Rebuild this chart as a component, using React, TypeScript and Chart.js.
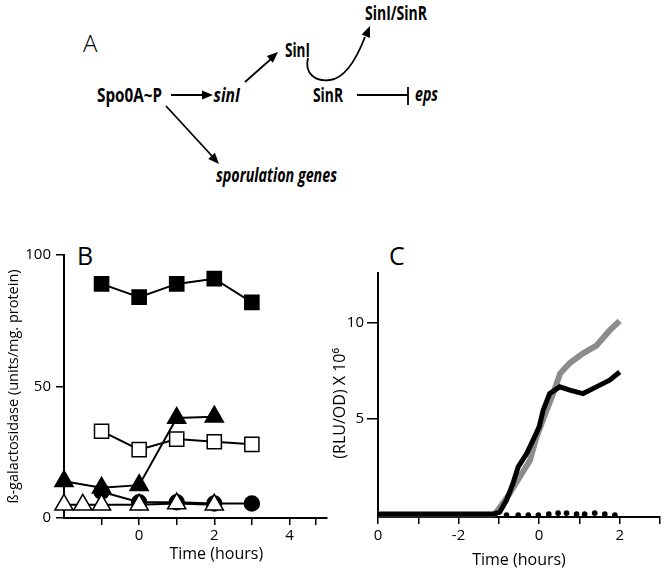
import { useEffect, useRef } from "react";
import { Chart, registerables } from "chart.js";

Chart.register(...registerables);

const FONT = "'Open Sans', 'DejaVu Sans', sans-serif";

// ---------- Panel B data ----------
const bFilledSquareX = [-1, 0, 1, 2, 3];
const bFilledSquareY = [89, 84, 89, 91, 82];
const bOpenSquareX = [-1, 0, 1, 2, 3];
const bOpenSquareY = [33, 26, 30, 29, 28];
const bFilledTriangleX = [-2, -1, 0, 1, 2];
const bFilledTriangleY = [14, 11.5, 12.5, 38, 38.5];
const bFilledCircleX = [-1, 0, 1, 2, 3];
const bFilledCircleY = [10, 6, 6, 5.5, 5.5];
const bOpenTriangleX = [-2, -1.5, -1, 0, 1, 2];
const bOpenTriangleY = [5, 5, 5, 5, 5.5, 5];
const bXTickValues = [-1, 0, 1, 2, 3, 4, 4.7];
const bXTickText = ["", "0", "", "2", "", "4", ""];
const bYTickValues = [0, 50, 100];
const bYTickText = ["0", "50", "100"];

// ---------- Panel C data ----------
const cGrayX = [-4, -1.14, -1.06, -0.73, -0.48, -0.23, -0.07, 0.18, 0.35, 0.52, 0.76, 1.09, 1.42, 1.75, 2.0];
const cGrayY = [0, 0, 0.1, 1.08, 1.95, 2.8, 4.0, 5.4, 6.3, 7.35, 7.9, 8.4, 8.8, 9.6, 10.1];
const cBlackX = [-4, -1.14, -0.98, -0.81, -0.65, -0.52, -0.31, -0.15, 0, 0.1, 0.26, 0.51, 0.76, 1.09, 1.42, 1.75, 2.0];
const cBlackY = [0, 0, 0.1, 0.73, 1.6, 2.47, 3.17, 3.87, 4.56, 5.43, 6.3, 6.65, 6.48, 6.3, 6.65, 7.0, 7.43];
const cDotX = [-0.81, -0.52, -0.27, -0.02, 0.24, 0.47, 0.68, 0.93, 1.13, 1.38, 1.63, 1.88];
const cDotY = [-0.05, -0.05, -0.05, -0.05, 0, 0.05, 0.05, 0, 0, 0.05, 0, -0.05];
const cXTickValues = [-4, -3, -2, -1, 0, 1, 2, 3];
const cXTickText = ["0", "", "-2", "", "0", "", "2", ""];
const cYTickValues = [5, 10];
const cYTickText = ["5", "10"];

const pts = (xs: number[], ys: number[]) => xs.map((x, i) => ({ x, y: ys[i] }));

function markerSeries(xs: number[], ys: number[], style: string, radius: number, filled: boolean) {
  return {
    data: pts(xs, ys),
    showLine: true,
    borderColor: "#000",
    borderWidth: 2,
    pointStyle: style,
    pointRadius: radius,
    pointHoverRadius: radius,
    pointBackgroundColor: filled ? "#000" : "#fff",
    pointBorderColor: "#000",
    pointBorderWidth: 1.5,
    tension: 0,
    clip: false as any,
  };
}

function axisCommon(values: number[], texts: string[], tickLength: number, padding: number, fit: (s: any) => void) {
  return {
    type: "linear" as const,
    afterBuildTicks: (s: any) => {
      s.ticks = values.map((v) => ({ value: v }));
    },
    afterFit: fit,
    border: { display: true, color: "#000", width: 2 },
    grid: {
      display: true,
      drawOnChartArea: false,
      drawTicks: true,
      tickLength,
      tickWidth: 1.5,
      tickColor: "#000",
      color: "#000",
      lineWidth: 1.5,
    },
    ticks: {
      autoSkip: false,
      maxRotation: 0,
      padding,
      color: "#000",
      font: { family: FONT, size: 15 },
      callback: (v: any) => {
        const i = values.findIndex((x) => Math.abs(x - Number(v)) < 1e-9);
        return i >= 0 ? texts[i] : "";
      },
    },
  };
}

function arrowHead(x1: number, y1: number, x2: number, y2: number, len = 11, half = 4.5) {
  const dx = x2 - x1;
  const dy = y2 - y1;
  const d = Math.hypot(dx, dy);
  const ux = dx / d;
  const uy = dy / d;
  const bx = x2 - ux * len;
  const by = y2 - uy * len;
  const px = -uy * half;
  const py = ux * half;
  return `${x2},${y2} ${bx + px},${by + py} ${bx - px},${by - py}`;
}

export default function App() {
  const bRef = useRef<HTMLCanvasElement>(null);
  const cRef = useRef<HTMLCanvasElement>(null);

  useEffect(() => {
    const charts: Chart[] = [];
    if (bRef.current) {
      const xAxis: any = axisCommon(bXTickValues, bXTickText, 7, 2, (s: any) => {
        s.height = 56;
      });
      xAxis.min = -2;
      xAxis.max = 5;
      xAxis.title = {
        display: true,
        text: "\u00a0".repeat(10) + "Time (hours)",
        color: "#000",
        font: { family: FONT, size: 16 },
        padding: { top: 0, bottom: 10 },
      };
      const yAxis: any = axisCommon(bYTickValues, bYTickText, 8, 5, (s: any) => {
        s.width = 64;
      });
      yAxis.min = 0;
      yAxis.max = 100;
      yAxis.title = {
        display: true,
        text: "ß-galactosidase (units/mg. protein)",
        color: "#000",
        font: { family: FONT, size: 14.5 },
        padding: { top: 5, bottom: 0 },
      };
      charts.push(
        new Chart(bRef.current, {
          type: "scatter",
          data: {
            datasets: [
              markerSeries(bOpenTriangleX, bOpenTriangleY, "triangle", 10.5, false),
              markerSeries(bFilledTriangleX, bFilledTriangleY, "triangle", 10.5, true),
              markerSeries(bFilledCircleX, bFilledCircleY, "circle", 7.5, true),
              markerSeries(bOpenSquareX, bOpenSquareY, "rect", 10, false),
              markerSeries(bFilledSquareX, bFilledSquareY, "rect", 10, true),
            ] as any,
          },
          options: {
            animation: false,
            responsive: false,
            events: [],
            layout: { padding: { left: 0, top: 25, right: 13, bottom: 0 } },
            plugins: { legend: { display: false }, tooltip: { enabled: false } },
            scales: { x: xAxis, y: yAxis },
          },
        })
      );
    }
    if (cRef.current) {
      const xAxis: any = axisCommon(cXTickValues, cXTickText, 7, 3, (s: any) => {
        s.height = 57;
      });
      xAxis.min = -4;
      xAxis.max = 3;
      xAxis.title = {
        display: true,
        text: "Time (hours)",
        color: "#000",
        font: { family: FONT, size: 16 },
        padding: { top: 0, bottom: 4 },
      };
      const yAxis: any = axisCommon(cYTickValues, cYTickText, 11, 3, (s: any) => {
        s.width = 48;
      });
      yAxis.min = -0.15;
      yAxis.max = 12.6;
      yAxis.title = {
        display: true,
        text: "(RLU/OD) X 10⁶\u00a0\u00a0\u00a0\u00a0",
        color: "#000",
        font: { family: FONT, size: 16 },
        padding: { top: 1, bottom: 0 },
      };
      charts.push(
        new Chart(cRef.current, {
          type: "scatter",
          data: {
            datasets: [
              {
                data: pts(cBlackX, cBlackY),
                showLine: true,
                borderColor: "#000",
                borderWidth: 5,
                pointRadius: 0,
                tension: 0,
                clip: false as any,
              },
              {
                data: pts(cGrayX, cGrayY),
                showLine: true,
                borderColor: "#8c8c8c",
                borderWidth: 6,
                pointRadius: 0,
                tension: 0,
                clip: false as any,
              },
              {
                data: pts(cDotX, cDotY),
                showLine: false,
                pointRadius: 2.8,
                pointBackgroundColor: "#000",
                pointBorderColor: "#000",
                pointBorderWidth: 0,
                clip: false as any,
              },
            ] as any,
          },
          options: {
            animation: false,
            responsive: false,
            events: [],
            layout: { padding: { left: 0, top: 43, right: 4, bottom: 0 } },
            plugins: { legend: { display: false }, tooltip: { enabled: false } },
            scales: { x: xAxis, y: yAxis },
          },
        })
      );
    }
    return () => charts.forEach((c) => c.destroy());
  }, []);

  const bold = { fontFamily: FONT, fontWeight: 700, fontSize: 19 } as const;
  const boldIt = { ...bold, fontStyle: "italic" } as const;

  return (
    <div style={{ position: "absolute", left: 0, top: 0, width: 664, height: 574, background: "#fff", overflow: "hidden" }}>
      <svg width={664} height={574} style={{ position: "absolute", left: 0, top: 0 }}>
        <text x={83} y={52} style={{ fontFamily: FONT, fontWeight: 300, fontSize: 24 }}>A</text>
        <text x={97} y={102} textLength={65} lengthAdjust="spacingAndGlyphs" style={bold}>Spo0A~P</text>
        <text x={213.5} y={102} textLength={26.5} lengthAdjust="spacingAndGlyphs" style={boldIt}>sinI</text>
        <text x={285} y={57} textLength={25} lengthAdjust="spacingAndGlyphs" style={bold}>SinI</text>
        <text x={365} y={19.5} textLength={62} lengthAdjust="spacingAndGlyphs" style={bold}>SinI/SinR</text>
        <text x={313} y={102} textLength={30} lengthAdjust="spacingAndGlyphs" style={bold}>SinR</text>
        <text x={415} y={101} textLength={23} lengthAdjust="spacingAndGlyphs" style={boldIt}>eps</text>
        <text x={216} y={182} textLength={121} lengthAdjust="spacingAndGlyphs" style={boldIt}>sporulation genes</text>

        <g stroke="#000" strokeWidth={1.8} fill="none">
          <line x1={171} y1={95} x2={204} y2={95} />
          <line x1={245} y1={82} x2={271} y2={59} />
          <line x1={166} y1={106} x2={212} y2={156} />
          <path d="M 308 58 C 304 74, 316 82, 330 80 C 347 78, 358 55, 365 37" />
          <line x1={357} y1={95} x2={408} y2={95} />
          <line x1={408} y1={87} x2={408} y2={105} />
        </g>
        <g fill="#000">
          <polygon points={arrowHead(171, 95, 213, 95)} />
          <polygon points={arrowHead(245, 82, 278, 52)} />
          <polygon points={arrowHead(166, 106, 219, 164)} />
          <polygon points={arrowHead(360, 50, 370, 26)} />
        </g>

        <text x={77} y={265} style={{ fontFamily: FONT, fontWeight: 400, fontSize: 25 }}>B</text>
        <text x={389} y={265} style={{ fontFamily: FONT, fontWeight: 400, fontSize: 25 }}>C</text>
      </svg>
      <canvas ref={bRef} width={340} height={344} style={{ position: "absolute", left: 0, top: 230, width: 340, height: 344 }} />
      <canvas ref={cRef} width={334} height={344} style={{ position: "absolute", left: 330, top: 230, width: 334, height: 344 }} />
    </div>
  );
}
